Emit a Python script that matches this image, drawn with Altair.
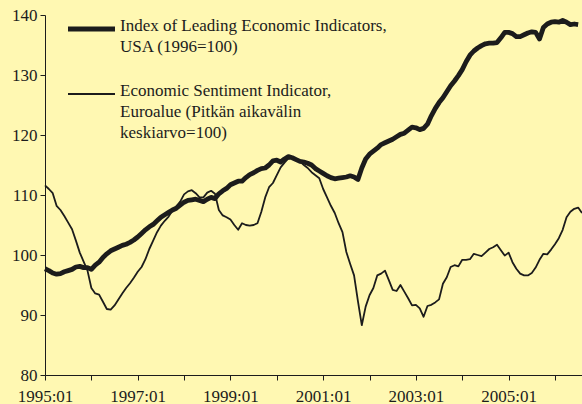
import altair as alt
import pandas as pd

# Monthly values, 1995:01 onwards (month index 0 = 1995:01)
lei = [97.7, 97.4, 97.0, 96.8, 96.9, 97.2, 97.4, 97.6, 98.0, 98.1, 97.9, 97.9,
       97.6, 98.3, 98.8, 99.6, 100.2, 100.7, 101.0, 101.3, 101.6, 101.8, 102.1, 102.5,
       103.0, 103.6, 104.2, 104.7, 105.1, 105.7, 106.3, 106.7, 107.1, 107.5, 107.8, 108.3,
       108.8, 109.1, 109.2, 109.3, 109.1, 108.9, 109.3, 109.6, 109.4, 110.2, 110.7, 111.1,
       111.7, 112.0, 112.3, 112.3, 112.9, 113.4, 113.7, 114.1, 114.4, 114.5, 115.0, 115.7,
       115.8, 115.5, 116.0, 116.4, 116.2, 115.9, 115.6, 115.5, 115.3, 115.0, 114.4, 114.0,
       113.6, 113.2, 112.9, 112.7, 112.8, 112.9, 113.0, 113.2, 113.0, 112.6, 114.5, 116.0,
       116.8, 117.3, 117.8, 118.4, 118.7, 119.0, 119.3, 119.7, 120.1, 120.3, 120.8, 121.3,
       121.2, 120.9, 121.1, 121.8, 123.2, 124.4, 125.4, 126.2, 127.2, 128.2, 129.0, 129.9,
       130.9, 132.2, 133.3, 134.0, 134.5, 134.9, 135.2, 135.3, 135.3, 135.4, 136.2, 137.1,
       137.1, 136.9, 136.4, 136.4, 136.7, 137.0, 137.2, 137.1, 136.0, 137.9, 138.5, 138.8,
       138.9, 138.8, 139.1, 138.8, 138.4, 138.5, 138.4]

esi = [111.6, 111.0, 110.3, 108.2, 107.5, 106.5, 105.4, 104.3, 102.4, 100.4, 98.9, 97.4,
       94.5, 93.6, 93.4, 92.2, 91.0, 90.9, 91.6, 92.6, 93.6, 94.5, 95.3, 96.2,
       97.2, 98.0, 99.3, 101.0, 102.4, 103.8, 104.9, 105.7, 106.4, 107.4, 108.1, 108.9,
       110.1, 110.6, 110.8, 110.3, 109.6, 109.6, 110.4, 110.7, 110.2, 107.5, 106.6, 106.3,
       105.9, 105.0, 104.2, 105.3, 105.0, 104.9, 105.0, 105.3, 107.2, 109.6, 111.3, 112.0,
       113.3, 114.6, 115.4, 116.1, 116.2, 115.9, 115.6, 115.0, 114.5, 113.8, 113.3, 112.8,
       111.0, 109.6, 108.2, 107.0, 105.3, 103.8, 100.5, 98.5, 96.6, 92.3, 88.3, 91.4,
       93.3, 94.5, 96.6, 96.9, 97.4, 95.8, 94.2, 94.0, 95.0, 93.9, 92.8, 91.6,
       91.7, 91.1, 89.7, 91.5, 91.7, 92.1, 92.6, 95.2, 96.3, 98.0, 98.3, 98.1,
       99.2, 99.2, 99.3, 100.2, 100.0, 99.8, 100.4, 101.0, 101.3, 101.7, 100.8, 99.9,
       100.4, 98.8, 97.7, 96.9, 96.6, 96.6, 97.0, 97.9, 99.2, 100.2, 100.1, 100.9,
       101.8, 102.8, 104.2, 106.3, 107.2, 107.7, 107.9, 107.0]

x_tick_months = list(range(0, 133, 12))
y_ticks = [80, 90, 100, 110, 120, 130, 140]
legend_lei = "Index of Leading Economic Indicators,\nUSA (1996=100)"
legend_esi = "Economic Sentiment Indicator,\nEuroalue (Pitkän aikavälin\nkeskiarvo=100)"

FONT = "Liberation Serif"
INK = "#1c1c1c"

df_lei = pd.DataFrame({"m": list(range(len(lei))), "v": lei})
df_esi = pd.DataFrame({"m": list(range(len(esi))), "v": esi})
one = pd.DataFrame({"k": [0]})

x_enc = alt.X(
    "m:Q",
    title=None,
    scale=alt.Scale(domain=[0, 139], nice=False, zero=False),
    axis=alt.Axis(
        values=x_tick_months,
        labelExpr="datum.value % 24 == 0 ? (1995 + datum.value / 12) + ':01' : ''",
        grid=False, tickSize=5, labelPadding=8, labelOverlap=False, labelFlush=False,
        domainColor=INK, tickColor=INK, labelColor=INK,
        labelFont=FONT, labelFontSize=17,
    ),
)
y_enc = alt.Y(
    "v:Q",
    title=None,
    scale=alt.Scale(domain=[80, 140], nice=False, zero=False),
    axis=alt.Axis(
        values=y_ticks, grid=False, tickSize=5, labelPadding=3,
        domainColor=INK, tickColor=INK, labelColor=INK,
        labelFont=FONT, labelFontSize=17,
    ),
)

thin = alt.Chart(df_esi).mark_line(color=INK, strokeWidth=1.8, strokeJoin="round").encode(x=x_enc, y=y_enc)
thick = alt.Chart(df_lei).mark_line(color=INK, strokeWidth=4.8, strokeJoin="round").encode(x=x_enc, y=y_enc)

leg_rule1 = alt.Chart(one).mark_rule(color=INK, strokeWidth=5).encode(
    x=alt.value(23), x2=alt.value(70), y=alt.value(14))
leg_rule2 = alt.Chart(one).mark_rule(color=INK, strokeWidth=1.8).encode(
    x=alt.value(23), x2=alt.value(70), y=alt.value(79))
leg_text1 = alt.Chart(one).mark_text(
    align="left", baseline="alphabetic", lineBreak="\n", lineHeight=21.6,
    font=FONT, fontSize=17, color=INK).encode(
    x=alt.value(75), y=alt.value(15.7), text=alt.value(legend_lei))
leg_text2 = alt.Chart(one).mark_text(
    align="left", baseline="alphabetic", lineBreak="\n", lineHeight=21.4,
    font=FONT, fontSize=17, color=INK).encode(
    x=alt.value(75), y=alt.value(80.7), text=alt.value(legend_esi))

chart = alt.layer(thin, thick, leg_rule1, leg_rule2, leg_text1, leg_text2).properties(
    width=537, height=360,
    padding={"left": 45, "top": 15, "right": 0, "bottom": 29},
    autosize=alt.AutoSizeParams(type="none"),
    background="#FFF8B2",
).configure_view(stroke=None)

chart.save("out.html", embed_options={"renderer": "svg", "actions": False})
